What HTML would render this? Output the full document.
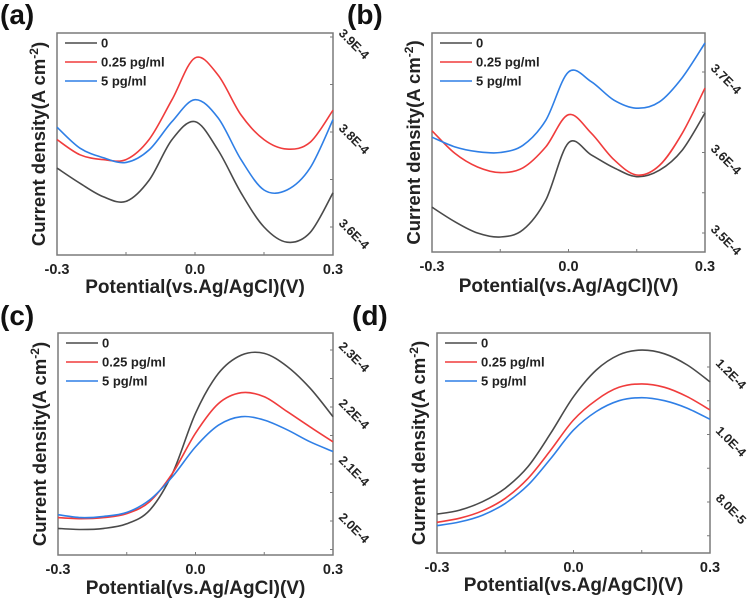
<!DOCTYPE html>
<html><head><meta charset="utf-8"><style>
html,body{margin:0;padding:0;background:#fff;}
svg{display:block;font-family:"Liberation Sans",Arial,sans-serif;}
</style></head><body>
<svg id="fig" width="749" height="603" viewBox="0 0 749 603"></svg>
<script>
const xs = [-0.3,-0.25,-0.2,-0.15,-0.1,-0.05,0,0.05,0.1,0.15,0.2,0.25,0.3];
const seriesNames = ["0","0.25 pg/ml","5 pg/ml"];
const seriesNamesA = ["0","0.25 pg/ml","5  pg/ml"];
const xTicks = [-0.3,0,0.3];
const xTickLabels = ["-0.3","0.0","0.3"];
// panel a
const aBlack = [3.762,3.746,3.732,3.727,3.749,3.792,3.811,3.781,3.736,3.700,3.684,3.694,3.736];
const aRed   = [3.792,3.776,3.771,3.771,3.792,3.834,3.878,3.860,3.818,3.792,3.782,3.789,3.823];
const aBlue  = [3.805,3.783,3.773,3.768,3.781,3.811,3.834,3.815,3.771,3.739,3.739,3.762,3.813];
const aTicks = [3.9,3.85,3.8,3.75,3.7];
const aTickLabels = ["3.9E-4","","3.8E-4","","3.6E-4"];
// panel b
const bBlack = [3.532,3.514,3.500,3.495,3.504,3.541,3.612,3.597,3.581,3.570,3.578,3.603,3.649];
const bRed   = [3.627,3.599,3.582,3.575,3.581,3.607,3.647,3.624,3.591,3.572,3.584,3.624,3.680];
const bBlue  = [3.619,3.607,3.601,3.600,3.609,3.640,3.700,3.688,3.665,3.655,3.663,3.693,3.736];
const bTicks = [3.7,3.65,3.6,3.55,3.5];
const bTickLabels = ["3.7E-4","","3.6E-4","","3.5E-4"];
// panel c
const cBlack = [1.987,1.985,1.987,1.995,2.019,2.084,2.189,2.259,2.291,2.294,2.271,2.233,2.183];
const cRed   = [2.006,2.004,2.006,2.013,2.034,2.084,2.154,2.206,2.225,2.218,2.192,2.165,2.139];
const cBlue  = [2.011,2.006,2.008,2.015,2.037,2.078,2.130,2.168,2.183,2.177,2.160,2.139,2.122];
const cTicks = [2.3,2.25,2.2,2.15,2.1,2.05,2.0,1.95];
const cTickLabels = ["2.3E-4","","2.2E-4","","2.1E-4","","2.0E-4",""];
// panel d
const dBlack = [0.764,0.776,0.801,0.841,0.905,1.004,1.112,1.191,1.236,1.250,1.239,1.206,1.156];
const dRed   = [0.740,0.752,0.774,0.811,0.870,0.954,1.043,1.102,1.140,1.150,1.140,1.112,1.073];
const dBlue  = [0.730,0.741,0.761,0.796,0.850,0.929,1.013,1.068,1.100,1.109,1.100,1.078,1.045];
const dTicks = [1.2,1.1,1.0,0.9,0.8,0.7];
const dTickLabels = ["1.2E-4","","1.0E-4","","8.0E-5",""];

const NS="http://www.w3.org/2000/svg";
const svg=document.getElementById('fig');
const colors=["#4a4a4a","#f03c3c","#2f7fe6"];
function mk(tag,attrs,parent){const e=document.createElementNS(NS,tag);for(const k in attrs)e.setAttribute(k,attrs[k]);(parent||svg).appendChild(e);return e;}
function smooth(pts){let d="M"+pts[0][0].toFixed(1)+","+pts[0][1].toFixed(1);
 for(let i=0;i<pts.length-1;i++){const p0=pts[Math.max(0,i-1)],p1=pts[i],p2=pts[i+1],p3=pts[Math.min(pts.length-1,i+2)];
  const c1=[p1[0]+(p2[0]-p0[0])/6,p1[1]+(p2[1]-p0[1])/6],c2=[p2[0]-(p3[0]-p1[0])/6,p2[1]-(p3[1]-p1[1])/6];
  d+=" C"+c1[0].toFixed(1)+","+c1[1].toFixed(1)+" "+c2[0].toFixed(1)+","+c2[1].toFixed(1)+" "+p2[0].toFixed(1)+","+p2[1].toFixed(1);}
 return d;}
function panel(p){
 const g=mk('g',{});
 
 
 const X=v=>p.x0+(v+0.3)/0.6*(p.x1-p.x0);
 const Y=v=>p.ya+(p.va-v)*(p.yb-p.ya)/(p.va-p.vb);
 const lab=mk('text',{x:p.lx,y:p.ly,'font-size':28,'font-weight':'bold',fill:'#111'},g);lab.textContent='('+p.id+')';
 
 
 const fr=mk('rect',{x:p.x0,y:p.y0,width:p.x1-p.x0,height:p.y1-p.y0,fill:'none',stroke:'#7a7a7a','stroke-width':1.5},g);
 
 
 const xt=[-0.3,-0.15,0,0.15,0.3];
 xt.forEach(v=>{mk('line',{x1:X(v),x2:X(v),y1:p.y1,y2:p.y1-3,stroke:'#7a7a7a','stroke-width':1},g);});
 xTicks.forEach((v,i)=>{const t=mk('text',{x:X(v),y:p.y1+19,'font-size':14.5,'font-weight':'bold','text-anchor':'middle',fill:'#222'},g);t.textContent=xTickLabels[i];
  
  });
 const xt2=mk('text',{x:(p.x0+p.x1)/2,y:p.y1+p.tOff,'font-size':19,'font-weight':'bold','text-anchor':'middle',fill:'#222'},g);xt2.textContent='Potential(vs.Ag/AgCl)(V)';
 
 
 const yc=(p.y0+p.y1)/2, yx=p.x0-12;
 const yt=mk('text',{x:yx,y:yc,'font-size':18.5,'font-weight':'bold','text-anchor':'middle',fill:'#222',transform:'rotate(-90 '+yx+' '+yc+')'},g);
 yt.innerHTML='Current density(A cm<tspan dy="-7" font-size="12">-2</tspan><tspan dy="7">)</tspan>';
 
 
 p.ticks.forEach((v,i)=>{const y=Y(v);if(y<p.y0-1||y>p.y1+1)return;
  mk('line',{x1:p.x1,x2:p.x1-3,y1:y,y2:y,stroke:'#7a7a7a','stroke-width':1},g);
  if(p.labels[i]){const tx=p.x1+5,ty=y-3;const t=mk('text',{x:tx,y:ty,'font-size':12.5,'font-weight':'bold',fill:'#222',transform:'rotate(45 '+tx+' '+ty+')'},g);t.textContent=p.labels[i];
   
   }});
 p.series.forEach((s,k)=>{const pts=xs.map((x,i)=>[X(x),Y(s[i])]);
  const path=mk('path',{d:smooth(pts),fill:'none',stroke:colors[k],'stroke-width':1.6},g);
  
  });
 p.names.forEach((n,k)=>{const ly=p.y0+10+k*19;
  const l=mk('line',{x1:p.x0+8,x2:p.x0+40,y1:ly,y2:ly,stroke:colors[k],'stroke-width':1.6},g);
  
  
  const t=mk('text',{x:p.x0+44,y:ly+4.5,'font-size':13,'font-weight':'bold',fill:'#222'},g);t.textContent=n;
  
  });
}
panel({id:'a',lx:0,ly:24,x0:57,x1:333,y0:33,y1:255,ya:37,va:3.9,yb:227,vb:3.7,ticks:aTicks,labels:aTickLabels,series:[aBlack,aRed,aBlue],names:seriesNamesA,tOff:38});
panel({id:'b',lx:347,ly:24,x0:432,x1:705,y0:33,y1:252,ya:72,va:3.7,yb:233,vb:3.5,ticks:bTicks,labels:bTickLabels,series:[bBlack,bRed,bBlue],names:seriesNames,tOff:40});
panel({id:'c',lx:0,ly:325,x0:58,x1:333,y0:333,y1:555,ya:350,va:2.3,yb:521,vb:2.0,ticks:cTicks,labels:cTickLabels,series:[cBlack,cRed,cBlue],names:seriesNames,tOff:39});
panel({id:'d',lx:352,ly:325,x0:437,x1:710,y0:333,y1:553,ya:367,va:1.2,yb:502,vb:0.8,ticks:dTicks,labels:dTickLabels,series:[dBlack,dRed,dBlue],names:seriesNames,tOff:38});
</script>
</body></html>
